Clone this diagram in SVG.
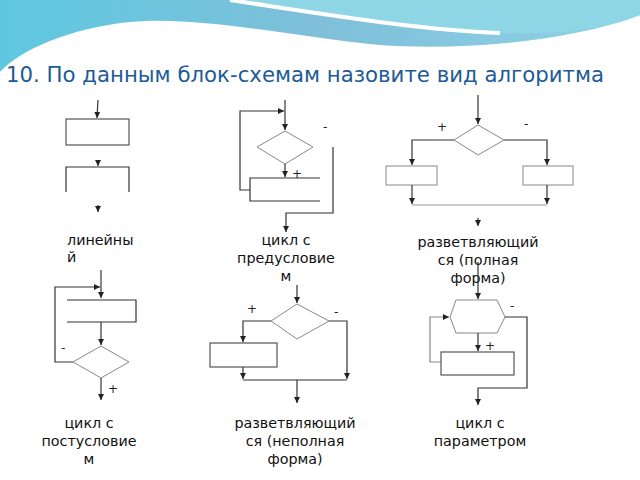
<svg xmlns="http://www.w3.org/2000/svg" width="640" height="480" viewBox="0 0 640 480">
<defs>
<linearGradient id="g1" x1="0" y1="0" x2="1" y2="0"><stop offset="0" stop-color="#5ec8e0"/><stop offset="0.5" stop-color="#7fbfda"/><stop offset="1" stop-color="#8fd3e6"/></linearGradient>
<marker id="a" viewBox="0 0 6 6" refX="6" refY="3" markerWidth="5" markerHeight="5" orient="auto"><path d="M0,0 L6,3 L0,6 Z" fill="#222"/></marker>
</defs>
<style>
.l{fill:none;stroke:#333;stroke-width:1.2}
.d{fill:#fff;stroke:#888;stroke-width:1}
.b{fill:#fff;stroke:#555;stroke-width:1.2}
.t{font-family:"DejaVu Sans",sans-serif;font-size:14.3px;fill:#111;text-anchor:middle}
.s{font-family:"DejaVu Sans",sans-serif;font-size:12px;fill:#222}
</style>
<rect width="640" height="480" fill="#fff"/>
<path d="M0,0 H640 V15 C560,45 450,50 380,45 C300,38 200,15 130,22 C70,28 20,50 0,72 Z" fill="url(#g1)"/>
<path d="M230,0 C330,15 420,30 500,33 C560,35 610,28 640,15 V0 Z" fill="#8ed6e6"/>
<path d="M230,0 C330,15 420,30 500,33" fill="none" stroke="#fff" stroke-width="4"/>
<text x="6" y="82" font-family="DejaVu Sans,sans-serif" font-size="21.5" fill="#1d5a96" textLength="598" lengthAdjust="spacingAndGlyphs">10. По данным блок-схемам назовите вид алгоритма</text>

<g id="linear">
<path class="l" d="M98,100 L97,118" marker-end="url(#a)"/>
<rect class="b" x="66" y="119" width="63" height="26"/>
<path class="l" d="M98,160 V166" marker-end="url(#a)"/>
<path class="l" d="M66,192 V167 H129 V192"/>
<path class="l" d="M98,205 V212" marker-end="url(#a)"/>
<text class="t" style="text-anchor:start" x="67" y="245">линейны</text>
<text class="t" style="text-anchor:start" x="67" y="262">й</text>
</g>

<g id="pre">
<path class="l" d="M285,100 V130" marker-end="url(#a)"/>
<path class="l" d="M250,190 H240 V111 H284" marker-end="url(#a)"/>
<polygon class="d" points="285,131 313,147 285,164 257,147"/>
<path class="l" d="M285,164 V177" marker-end="url(#a)"/>
<path class="l" d="M320,178 H250 V201 H320"/>
<path class="l" d="M333,147 V213 H286 V232" marker-end="url(#a)"/>
<text class="s" x="292" y="178">+</text>
<text class="s" x="323" y="131">-</text>
<text class="t" x="286" y="245">цикл с</text>
<text class="t" x="286" y="263">предусловие</text>
<text class="t" x="286" y="281">м</text>
</g>

<g id="full">
<path class="l" d="M478,95 V124" marker-end="url(#a)"/>
<polygon class="d" points="478,125 504,140 478,155 454,140"/>
<path class="l" d="M454,140 H412 V165" marker-end="url(#a)"/>
<path class="l" d="M504,140 H547 V165" marker-end="url(#a)"/>
<rect class="d" x="386" y="166" width="51" height="19"/>
<rect class="d" x="523" y="166" width="50" height="19"/>
<path class="l" d="M412,185 V204" marker-end="url(#a)"/>
<path class="l" d="M547,185 V204" marker-end="url(#a)"/>
<path class="l" d="M412,205 H547" style="stroke:#999"/>
<path class="l" d="M478,218 V226" marker-end="url(#a)"/>
<text class="s" x="437" y="131">+</text>
<text class="s" x="524" y="128">-</text>
<text class="t" x="478" y="247">разветвляющий</text>
<text class="t" x="478" y="265">ся (полная</text>
<text class="t" x="478" y="283">форма)</text>
</g>

<g id="param">
<path class="l" d="M478,262 V299" marker-end="url(#a)"/>
<polygon class="d" points="456,300 497,300 505,317 497,333 456,333 450,317"/>
<path class="l" d="M441,362 H430 V317 H449" marker-end="url(#a)" style="stroke:#888"/>
<path class="l" d="M478,333 V351" marker-end="url(#a)"/>
<rect class="b" x="441" y="352" width="73" height="23"/>
<path class="l" d="M505,317 H527 V388 H478 V405" marker-end="url(#a)"/>
<text class="s" x="485" y="350">+</text>
<text class="s" x="510" y="310">-</text>
<text class="t" x="480" y="428">цикл с</text>
<text class="t" x="480" y="446">параметром</text>
</g>

<g id="post">
<path class="l" d="M101,270 V298" marker-end="url(#a)"/>
<path class="l" d="M73,362 H55 V287 H100" marker-end="url(#a)"/>
<path class="l" d="M67,300 H136 V322 H67"/>
<path class="l" d="M101,322 V345" marker-end="url(#a)"/>
<polygon class="d" points="101,346 129,362 101,378 73,362"/>
<path class="l" d="M101,378 V400" marker-end="url(#a)"/>
<text class="s" x="108" y="393">+</text>
<text class="s" x="61" y="352">-</text>
<text class="t" x="89" y="428">цикл с</text>
<text class="t" x="89" y="446">постусловие</text>
<text class="t" x="89" y="464">м</text>
</g>

<g id="partial">
<path class="l" d="M297,285 V303" marker-end="url(#a)"/>
<polygon class="d" points="297,304 329,321 297,339 271,321"/>
<path class="l" d="M271,321 H243 V342" marker-end="url(#a)"/>
<rect class="b" x="210" y="343" width="67" height="24"/>
<path class="l" d="M243,367 V379" marker-end="url(#a)"/>
<path class="l" d="M329,321 H347 V379" marker-end="url(#a)"/>
<path class="l" d="M243,380 H347"/>
<path class="l" d="M297,380 V403" marker-end="url(#a)"/>
<text class="s" x="247" y="313">+</text>
<text class="s" x="334" y="316">-</text>
<text class="t" x="295" y="428">разветвляющий</text>
<text class="t" x="295" y="446">ся (неполная</text>
<text class="t" x="295" y="464">форма)</text>
</g>
</svg>
